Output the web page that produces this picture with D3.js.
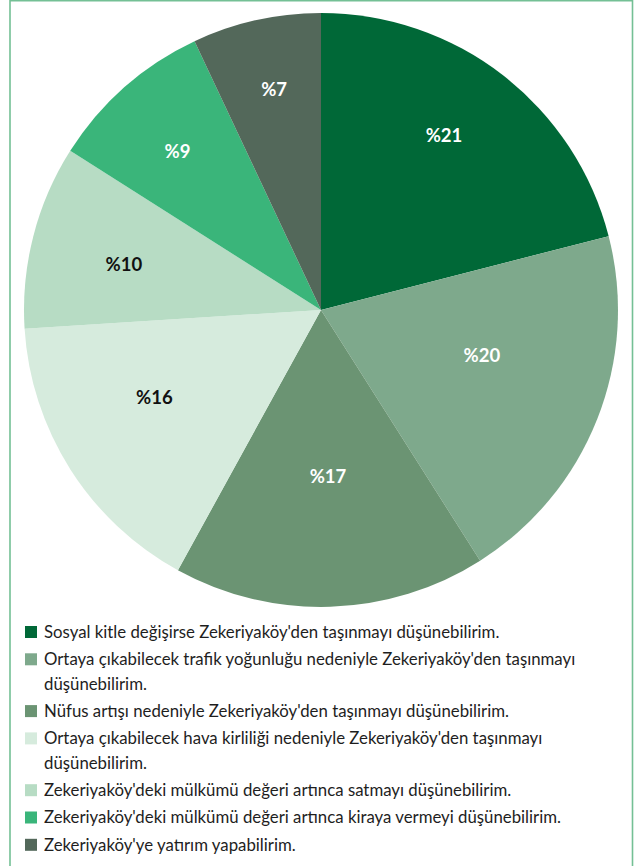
<!DOCTYPE html>
<html>
<head>
<meta charset="utf-8">
<script src="https://cdn.jsdelivr.net/npm/d3@7"></script>
<style>
  html, body { margin: 0; padding: 0; background: #fff; }
  svg { display: block; }
</style>
</head>
<body>
<script>
// Survey answers, in drawing order (clockwise from 12 o'clock)
const categories = [
  "Sosyal kitle değişirse Zekeriyaköy'den taşınmayı düşünebilirim.",
  "Ortaya çıkabilecek trafik yoğunluğu nedeniyle Zekeriyaköy'den taşınmayı düşünebilirim.",
  "Nüfus artışı nedeniyle Zekeriyaköy'den taşınmayı düşünebilirim.",
  "Ortaya çıkabilecek hava kirliliği nedeniyle Zekeriyaköy'den taşınmayı düşünebilirim.",
  "Zekeriyaköy'deki mülkümü değeri artınca satmayı düşünebilirim.",
  "Zekeriyaköy'deki mülkümü değeri artınca kiraya vermeyi düşünebilirim.",
  "Zekeriyaköy'ye yatırım yapabilirim."
];
const values = [21, 20, 17, 16, 10, 9, 7];

// Slice fills and label ink
const colors = ["#006837", "#7ea98c", "#6b9473", "#d6ebdd", "#b7dcc4", "#3ab57a", "#53685a"];
const labelInk = ["#fff", "#fff", "#fff", "#111", "#111", "#fff", "#fff"];
// Label placement: distance from centre (fraction of radius) and a small
// angular nudge (degrees) away from each slice's mid-angle
const labelRadius = [0.72, 0.563, 0.559, 0.633, 0.681, 0.721, 0.759];
const labelNudge = [-2.7, -5.8, -0.6, 4.8, -1.4, -0.7, 0.6];

const W = 641, H = 866;
const cx = 321, cy = 310, R = 297;
const FONT = "Lato, 'Open Sans', sans-serif";

const svg = d3.select("body").append("svg")
  .attr("width", W).attr("height", H);

// Frame (open at the bottom edge)
svg.append("path")
  .attr("d", `M10,${H} L10,0.75 L632.5,0.75 L632.5,${H}`)
  .attr("fill", "none")
  .attr("stroke", "#74c095")
  .attr("stroke-width", 1.6);

const pie = d3.pie().sort(null).value(d => d)(values);
const arc = d3.arc().innerRadius(0).outerRadius(R);

const g = svg.append("g").attr("transform", `translate(${cx},${cy})`);

g.selectAll("path.slice")
  .data(pie)
  .join("path")
  .attr("class", "slice")
  .attr("d", arc)
  .attr("fill", (d, i) => colors[i]);

g.selectAll("text.pct")
  .data(pie)
  .join("text")
  .attr("class", "pct")
  .attr("transform", (d, i) => {
    const a = (d.startAngle + d.endAngle) / 2 + labelNudge[i] * Math.PI / 180;
    const r = R * labelRadius[i];
    return `translate(${r * Math.sin(a)},${-r * Math.cos(a)})`;
  })
  .attr("text-anchor", "middle")
  .attr("dy", "0.36em")
  .attr("font-family", FONT)
  .attr("font-weight", 700)
  .attr("font-size", 18.5)
  .attr("fill", (d, i) => labelInk[i])
  .text(d => "%" + d.data);

// Legend
const legend = svg.append("g");
const textX = 44, boxX = 25, box = 12;
const wrapWidth = 540;
const lineH = 24.5, itemGap = 2.8;
let y = 632;

categories.forEach((label, i) => {
  const t = legend.append("text")
    .attr("x", textX)
    .attr("font-family", FONT)
    .attr("font-size", 16.8)
    .attr("fill", "#1e1e1e");
  // greedy word wrap
  const words = label.split(" ");
  let line = [];
  const lines = [];
  const probe = t.append("tspan");
  words.forEach(w => {
    const test = line.concat(w).join(" ");
    probe.text(test);
    if (probe.node().getComputedTextLength() > wrapWidth && line.length) {
      lines.push(line.join(" "));
      line = [w];
    } else {
      line.push(w);
    }
  });
  lines.push(line.join(" "));
  probe.remove();

  legend.append("rect")
    .attr("x", boxX)
    .attr("y", y - box / 2)
    .attr("width", box)
    .attr("height", box)
    .attr("fill", colors[i]);

  lines.forEach((ln, k) => {
    t.append("tspan")
      .attr("x", textX)
      .attr("y", y + k * lineH)
      .attr("dy", "0.35em")
      .text(ln);
  });
  y += lines.length * lineH + itemGap;
});
</script>
</body>
</html>
